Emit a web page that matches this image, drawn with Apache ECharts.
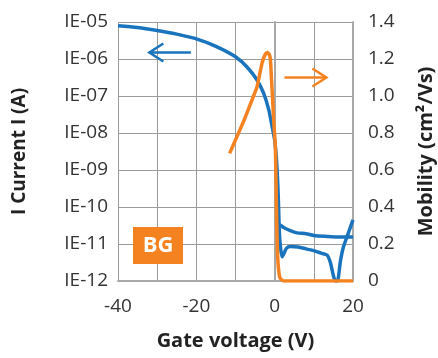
<!DOCTYPE html>
<html>
<head>
<meta charset="utf-8">
<script src="https://cdn.jsdelivr.net/npm/echarts@6/dist/echarts.min.js"></script>
<style>
  html, body { margin: 0; padding: 0; background: #fff; }
  #chart { width: 438px; height: 358px; }
</style>
</head>
<body>
<div id="chart"></div>
<script>
  // gate voltage (V) and drain current (A), forward sweep incl. lower branch
  var fwdVg = [-40, -35, -30, -25, -20, -15, -10, -7, -4.5, -2.8, -1.5, -0.66, 0, 0.3, 0.6, 0.8, 1.0, 1.2, 1.5, 1.9, 2.4, 3, 4, 6, 8, 10, 12, 13.4, 14.2, 15, 15.5, 16, 16.8, 17.5, 18.5, 20];
  var fwdId = [7.9e-6, 7.1e-6, 5.9e-6, 4.7e-6, 3.5e-6, 2.2e-6, 1.15e-6, 6.0e-7, 2.7e-7, 1.17e-7, 4.2e-8, 1.5e-8, 6.5e-9, 3.2e-9, 1.1e-9, 4e-10, 1e-10, 2e-11, 7.9e-12, 4.5e-12, 5.6e-12, 7.6e-12, 8.5e-12, 8.3e-12, 7.4e-12, 6.6e-12, 5.6e-12, 5.0e-12, 3.2e-12, 1.4e-12, 1e-12, 1e-12, 3.5e-12, 7.9e-12, 1.6e-11, 4.5e-11];
  // upper branch
  var revVg = [1.0, 1.5, 2.3, 4, 5.7, 8, 10, 13.4, 16, 20];
  var revId = [3.5e-11, 3.2e-11, 2.8e-11, 2.3e-11, 2.0e-11, 1.9e-11, 1.7e-11, 1.6e-11, 1.55e-11, 1.55e-11];
  // mobility (cm2/Vs)
  var mobVg = [-11.5, -8, -5.4, -4.5, -3.2, -2.4, -1.9, -1.4, -1.1, -0.7, -0.25, 0.2, 0.45, 0.77, 1.3, 2.3, 20];
  var mob = [0.69, 0.86, 1.0, 1.05, 1.18, 1.225, 1.235, 1.225, 1.2, 1.05, 0.87, 0.71, 0.40, 0.13, 0.02, 0, 0];

  var blue = '#1a74bd';
  var orange = '#f58220';
  var gridColor = '#9b9b9b';
  var font = 'Open Sans';

  function pairs(xs, ys) {
    return xs.map(function (x, i) { return [x, ys[i]]; });
  }

  var titleStyle = { fontSize: 20, fontWeight: 'bold', color: '#222', fontFamily: font };
  var labelColor = '#333';

  var chart = echarts.init(document.getElementById('chart'));
  var option = {
    animation: false,
    textStyle: { fontFamily: font },
    grid: { left: 118, right: 85, top: 22, bottom: 77, outerBoundsMode: 'none', containLabel: false },
    xAxis: {
      type: 'value', min: -40, max: 20, interval: 10,
      name: 'Gate voltage (V)', nameLocation: 'middle', nameGap: 50,
      nameTextStyle: titleStyle,
      axisLine: { lineStyle: { color: '#a8a8a8', width: 2 } },
      axisTick: { show: false },
      axisLabel: {
        color: labelColor, fontSize: 19, margin: 16, fontFamily: font,
        formatter: function (v) { return (v % 20 === 0) ? String(v) : ''; }
      },
      splitLine: { lineStyle: { color: gridColor, width: 1 } }
    },
    yAxis: [{
      type: 'log', logBase: 10, min: 1e-12, max: 1e-5, interval: 1,
      name: 'I Current I (A)', nameLocation: 'middle', nameGap: 89, nameRotate: 90,
      nameTextStyle: { fontSize: 19, fontWeight: 'bold', color: '#222', fontFamily: font },
      axisLine: { show: true, lineStyle: { color: '#a8a8a8', width: 2 } },
      axisTick: { show: false },
      axisLabel: {
        color: labelColor, fontSize: 19, margin: 10, fontFamily: font,
        formatter: function (v) {
          var e = Math.round(Math.log10(v));
          var n = Math.abs(e);
          return 'IE-' + (n < 10 ? '0' + n : n);
        }
      },
      splitLine: { lineStyle: { color: gridColor, width: 1 } }
    }, {
      type: 'value', min: 0, max: 1.4, interval: 0.2, position: 'right',
      name: 'Mobility (cm\u00b2/Vs)', nameLocation: 'middle', nameGap: 63, nameRotate: 90,
      nameTextStyle: titleStyle,
      axisLine: { show: true, lineStyle: { color: '#a8a8a8', width: 2 } },
      axisTick: { show: false },
      axisLabel: {
        color: labelColor, fontSize: 19, margin: 15, fontFamily: font,
        formatter: function (v) { return v === 0 ? '0' : v.toFixed(1); }
      },
      splitLine: { show: false }
    }],
    series: [{
      name: 'Id forward', type: 'line', yAxisIndex: 0,
      data: pairs(fwdVg, fwdId), showSymbol: false, smooth: 0.25,
      lineStyle: { color: blue, width: 3.5 }
    }, {
      name: 'Id reverse', type: 'line', yAxisIndex: 0,
      data: pairs(revVg, revId), showSymbol: false, smooth: 0.25,
      lineStyle: { color: blue, width: 3.5 }
    }, {
      name: 'Mobility', type: 'line', yAxisIndex: 1,
      data: pairs(mobVg, mob), showSymbol: false, smooth: 0.2,
      lineStyle: { color: orange, width: 3.5 }, z: 3
    }]
  };
  chart.setOption(option);

  // arrows that point each curve to its axis, placed in data coordinates
  function arrow(tail, tip, axisIdx, color) {
    var p0 = chart.convertToPixel({ xAxisIndex: 0, yAxisIndex: axisIdx }, tail);
    var p1 = chart.convertToPixel({ xAxisIndex: 0, yAxisIndex: axisIdx }, tip);
    var dir = p1[0] > p0[0] ? -1 : 1;
    return [{
      type: 'polyline', shape: { points: [p0, p1] },
      style: { stroke: color, lineWidth: 2.5, fill: null }
    }, {
      type: 'polyline',
      shape: { points: [[p1[0] + dir * 14, p1[1] - 9], p1, [p1[0] + dir * 14, p1[1] + 9]] },
      style: { stroke: color, lineWidth: 2.5, fill: null }
    }];
  }

  var graphics = [].concat(
    arrow([-21.4, 1.5e-6], [-32, 1.5e-6], 0, blue),
    arrow([2.5, 1.1], [13.2, 1.1], 1, orange),
    [{
      type: 'group', left: 133, top: 227,
      children: [{
        type: 'rect', shape: { x: 0, y: 0, width: 50, height: 37 },
        style: { fill: orange }
      }, {
        type: 'text', x: 25, y: 19,
        style: { text: 'BG', fill: '#fff', font: 'bold 22px "Open Sans"', align: 'center', verticalAlign: 'middle' }
      }]
    }]
  );
  chart.setOption({ graphic: graphics });
</script>
</body>
</html>
